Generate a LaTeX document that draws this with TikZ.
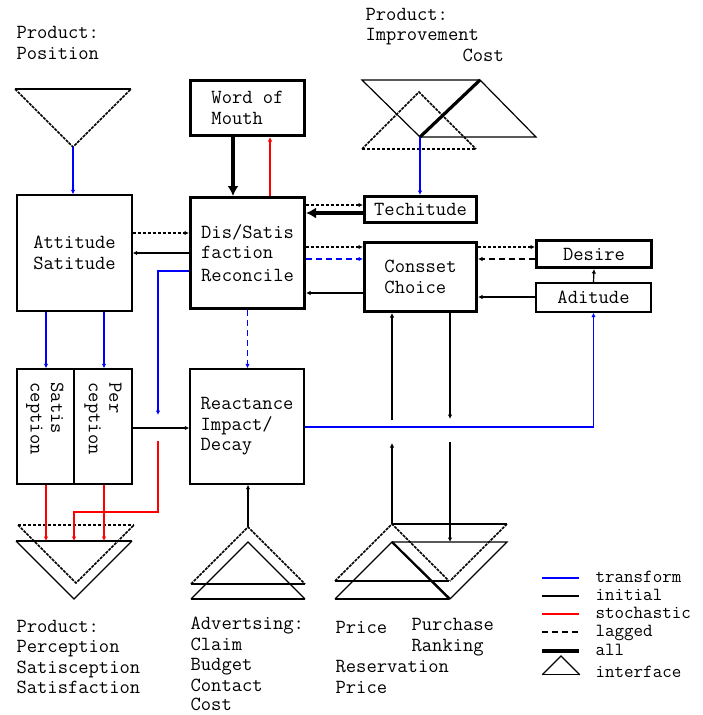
\documentclass[tikz,border=0pt]{standalone}
\usetikzlibrary{arrows.meta}
\newcommand{\boxfont}{\fontsize{20}{20.5}\selectfont\ttfamily}
\newcommand{\legfont}{\fontsize{18.5}{18.5}\selectfont\ttfamily}
\tikzset{
    tri side/.style={},
    tri base/.style={},
    % interface, pointing down
    tridown/.pic={
        \draw[tri base] (-58,-58) -- (58,-58);
        \draw[tri side] (-58,-58) -- (0,0) -- (58,-58);
        \coordinate (-apex) at (0,0);
        \coordinate (-top) at (0,-58);
    },
    % interface, pointing up
    triup/.pic={
        \draw[tri base] (-57,57) -- (57,57);
        \draw[tri side] (-57,57) -- (0,0) -- (57,57);
        \coordinate (-apex) at (0,0);
    },
    box/.style={draw, line width=1.4pt, align=left, inner sep=0pt, font=\boxfont},
    heavy/.style={box, line width=3pt},
    lbl/.style={align=left, inner sep=0pt, font=\boxfont},
    legtxt/.style={anchor=west, inner sep=0pt, font=\legfont, text height=10pt, text depth=2pt},
    trans/.style={blue},
    init/.style={black},
    stoch/.style={red},
    lag/.style={dash pattern=on 6pt off 4pt},
    shortlag/.style={dash pattern=on 3pt off 2pt},
    fine/.style={line width=1.5pt, dash pattern=on 3pt off 1pt},
    heavyln/.style={line width=3.2pt, >={Latex[length=10pt,width=11pt]}},
}

\begin{document}
\begin{tikzpicture}[x=1pt, y=-1pt, line width=1.2pt, >={Latex[length=4.5pt,width=4.5pt]}]
    \useasboundingbox (0,0) rectangle (702,715);
    % boxes
    \node[box, minimum width=115pt, minimum height=116pt] (atti) at (74.5,253) {Attitude\\Satitude};
    \node[heavy, minimum width=114pt, minimum height=111pt] (dis) at (247.5,253) {Dis/Satis\\faction\\[2pt]Reconcile};
    \node[heavy, minimum width=114pt, minimum height=55pt] (wom) at (247.5,108) {Word of\\Mouth};
    \node[heavy, minimum width=112pt, minimum height=26pt] (tech) at (420.5,209.5) {Techitude};
    \node[heavy, minimum width=112pt, minimum height=69pt] (cons) at (420.5,277) {Consset\\Choice};
    \node[heavy, minimum width=115pt, minimum height=27pt] (desi) at (594,254) {Desire};
    \node[box, minimum width=115pt, minimum height=29pt] (adit) at (593.5,297.5) {Aditude};
    \node[box, minimum width=57pt, minimum height=115pt] (sat) at (45.5,426.5) {};
    \node[box, minimum width=58pt, minimum height=115pt] (per) at (103,426.5) {};
    \node[lbl, rotate=-90, anchor=west] (t-sat) at (45,382) {Satis\\ception};
    \node[lbl, rotate=-90, anchor=west] (t-per) at (103,382) {Per\\ception};
    \node[box, minimum width=114pt, minimum height=115pt] (reac) at (247,426.5) {Reactance\\Impact/\\Decay};

    % interfaces
    \pic[tri side/.style=fine] (pos) at (73,147) {tridown};
    \draw (362,80) -- (480,80) -- (536,137) -- (420,137) -- cycle;
    \draw[heavyln] (420,137) -- (480,80);
    \coordinate (cost-apex) at (420,137);
    \pic[tri side/.style=fine, tri base/.style=shortlag] (imp) at (419,92) {triup};
    \pic (perc) at (74,599) {tridown};
    \pic[tri side/.style=fine, tri base/.style=shortlag] (perc2) at (76,583) {tridown};
    \pic[tri side/.style=fine] (adv2) at (248,527) {triup};
    \pic (adv) at (248,542) {triup};
    \pic[tri side/.style=fine] (pri2) at (392,524) {triup};
    \pic (pri) at (392,542) {triup};
    \draw (pri2-apex) -- (507,524);
    \draw[fine] (507,524) -- (450,581);
    \draw (pri-apex) -- (507,542) -- (450,599);
    \draw[line width=2.2pt] (pri-apex) -- (450,599);
    \coordinate (pur-top) at (450,542);

    % gaps where lines cross
    \coordinate (blu) at (158,415);
    \coordinate (rs) at (158,441);
    \coordinate (pl-lo) at (392,443);
    \coordinate (pl-hi) at (392,420);
    \coordinate (pr-hi) at (450,419);
    \coordinate (pr-lo) at (450,442);

    % connectors
    \draw[trans,->] (pos-apex) -- (atti.north -| pos-apex);
    \draw[heavyln,->] (wom.south -| 233,0) -- (dis.north -| 233,0);
    \draw[stoch,->] (dis.north -| 270,0) -- (wom.south -| 270,0);
    \draw[trans,->] (cost-apex) -- (tech.north -| cost-apex);
    \draw[shortlag,->] (dis.east |- 0,205) -- (tech.west |- 0,205);
    \draw[heavyln,->] (tech.west |- 0,213) -- (dis.east |- 0,213);
    \draw[shortlag,->] (atti.east |- 0,233) -- (dis.west |- 0,233);
    \draw[init,->] (dis.west |- 0,253) -- (atti.east |- 0,253);
    \draw[trans,->] (dis.west |- 0,271) -| (blu);
    \draw[shortlag,->] (dis.east |- 0,247) -- (cons.west |- 0,247);
    \draw[trans,lag,->] (dis.east |- 0,259) -- (cons.west |- 0,259);
    \draw[init,->] (cons.west |- 0,293) -- (dis.east |- 0,293);
    \draw[shortlag,->] (cons.east |- 0,247) -- (desi.west |- 0,247);
    \draw[lag,->] (desi.west |- 0,259) -- (cons.east |- 0,259);
    \draw[init,->] (adit.north) -- (desi.south);
    \draw[init,->] (adit.west |- 0,297) -- (cons.east |- 0,297);
    \draw[trans,lag,->] (dis.south) -- (reac.north -| dis.south);
    \draw[trans,->] (reac.east |- 0,427) -| (adit.south);
    \draw[trans,->] (atti.south -| 46,0) -- (sat.north -| 46,0);
    \draw[trans,->] (atti.south -| 104,0) -- (per.north -| 104,0);
    \draw[init,->] (per.east |- 0,428) -- (reac.west |- 0,428);
    \draw[stoch,->] (sat.south -| 46,0) -- (perc-top -| 46,0);
    \draw[stoch,->] (per.south -| 104,0) -- (perc-top -| 104,0);
    \draw[stoch,->] (rs) |- ([yshift=29pt]perc-top) -- (perc-top);
    \draw[init,->] (adv2-apex) -- (reac.south -| adv2-apex);
    \draw[init,->] (pri2-apex) -- (pl-lo);
    \draw[init,->] (pl-hi) -- (cons.south -| pl-hi);
    \draw[init,->] (cons.south -| pr-hi) -- (pr-hi);
    \draw[init,->] (pr-lo) -- (pur-top);

    % labels
    \node[lbl, anchor=west] (t-pos) at (16,43) {Product:\\Position};
    \node[lbl, anchor=west] (t-imp) at (365,35) {Product:\\Improvement\\\hspace*{97pt}Cost};
    \node[lbl, anchor=west] (t-perc) at (16,657) {Product:\\Perception\\Satisception\\Satisfaction};
    \node[lbl, anchor=west] (t-adv) at (190,664) {Advertsing:\\Claim\\Budget\\Contact\\[-1pt]Cost};
    \node[lbl, anchor=west] (t-pri) at (335,627) {Price};
    \node[lbl, anchor=west] (t-pur) at (411,637) {Purchase\\Ranking};
    \node[lbl, anchor=west] (t-res) at (335,677) {Reservation\\Price};

    % legend
    \foreach \y/\sty/\txt in {578/trans/transform, 596/init/initial, 614/stoch/stochastic, 632/lag/lagged, 651/heavyln/all}{
        \draw[\sty] (542,\y) -- (579,\y);
        \node[legtxt] (leg-\txt) at (595,\y) {\txt};
    }
    \pic[scale=0.33] (leg-tri) at (561,656) {triup};
    \node[legtxt] (leg-interface) at (595,673) {interface};
\end{tikzpicture}
\end{document}
